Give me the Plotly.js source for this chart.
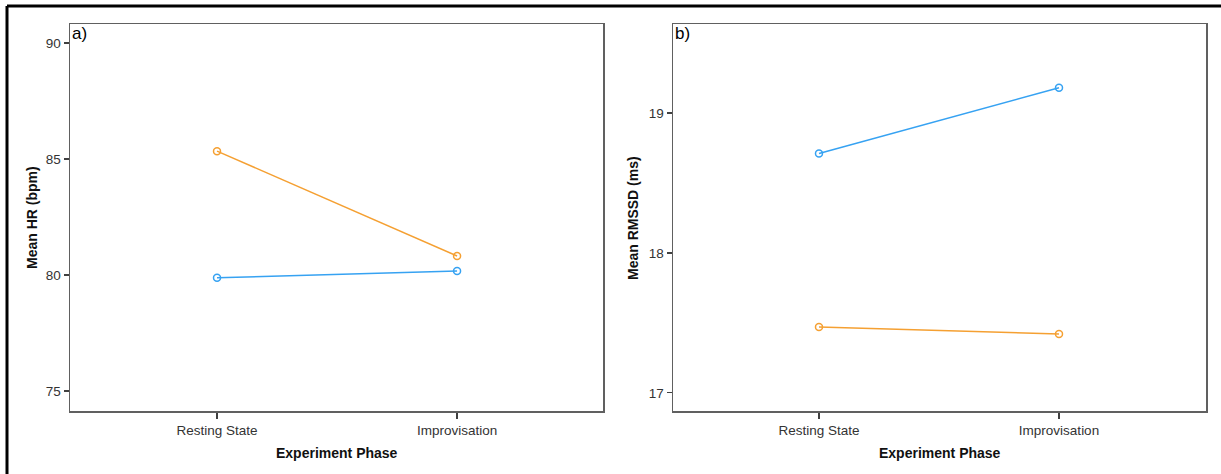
<!DOCTYPE html>
<html>
<head>
<meta charset="utf-8">
<script src="https://cdn.plot.ly/plotly-3.0.1.min.js"></script>
<style>html,body{margin:0;padding:0;background:#fff;}#chart{width:1221px;height:474px;}</style>
</head>
<body>
<div id="chart"></div>
<script>
const phases = ["Resting State", "Improvisation"];
const hrOrange = [85.34, 80.82];
const hrBlue = [79.88, 80.17];
const rmssdBlue = [18.71, 19.18];
const rmssdOrange = [17.47, 17.42];
const hrTicks = [75, 80, 85, 90];
const rmssdTicks = [17, 18, 19];

const ORANGE = "#F5A032";
const BLUE = "#36A2F2";
const FONT = "Liberation Sans, Arial, sans-serif";

function tr(y, color, xa, ya) {
  return {
    x: phases, y: y, xaxis: xa, yaxis: ya, type: "scatter", mode: "lines+markers",
    line: {color: color, width: 1.5},
    marker: {symbol: "circle-open", size: 7, color: color, line: {color: color, width: 1.5}},
    showlegend: false, hoverinfo: "skip"
  };
}

const data = [
  tr(hrOrange, ORANGE, "x", "y"),
  tr(hrBlue, BLUE, "x", "y"),
  tr(rmssdBlue, BLUE, "x2", "y2"),
  tr(rmssdOrange, ORANGE, "x2", "y2")
];

const yDom = [1 - 411/474, 1 - 24/474];
const axCommon = {
  showline: true, mirror: true, linecolor: "#606060", linewidth: 1.5,
  ticks: "outside", ticklen: 5, tickwidth: 1.3, tickcolor: "#404040",
  showgrid: false, zeroline: false, fixedrange: true,
  tickfont: {family: FONT, size: 13.5, color: "#333"}
};

const layout = {
  width: 1221, height: 474,
  margin: {l: 0, r: 0, t: 0, b: 0},
  paper_bgcolor: "#fff", plot_bgcolor: "#fff",
  font: {family: FONT},
  xaxis: Object.assign({}, axCommon, {domain: [70/1221, 603/1221], anchor: "y", type: "category", range: [-0.6125, 1.608], ticklen: 6}),
  yaxis: Object.assign({}, axCommon, {domain: yDom, anchor: "x", range: [74.14, 90.82], tickvals: hrTicks}),
  xaxis2: Object.assign({}, axCommon, {domain: [673/1221, 1206/1221], anchor: "y2", type: "category", range: [-0.6083, 1.6125], ticklen: 6}),
  yaxis2: Object.assign({}, axCommon, {domain: yDom, anchor: "x2", range: [16.87, 19.636], tickvals: rmssdTicks}),
  shapes: [
    {type: "line", xref: "paper", yref: "paper", x0: 7/1221, x1: 1, y0: 1 - 6/474, y1: 1 - 6/474, line: {color: "#000", width: 3}},
    {type: "line", xref: "paper", yref: "paper", x0: 7/1221, x1: 7/1221, y0: 0, y1: 1 - 6/474, line: {color: "#000", width: 3}}
  ],
  annotations: [
    {text: "a)", xref: "paper", yref: "paper", x: 70/1221, y: 1 - 22/474, xanchor: "left", yanchor: "top", showarrow: false, font: {family: FONT, size: 17, color: "#000"}},
    {text: "b)", xref: "paper", yref: "paper", x: 673/1221, y: 1 - 22/474, xanchor: "left", yanchor: "top", showarrow: false, font: {family: FONT, size: 17, color: "#000"}},
    {text: "<b>Experiment Phase</b>", xref: "paper", yref: "paper", x: 337/1221, y: 1 - 453/474, xanchor: "center", yanchor: "middle", showarrow: false, font: {family: FONT, size: 14, color: "#111"}},
    {text: "<b>Experiment Phase</b>", xref: "paper", yref: "paper", x: 940/1221, y: 1 - 453/474, xanchor: "center", yanchor: "middle", showarrow: false, font: {family: FONT, size: 14, color: "#111"}},
    {text: "<b>Mean HR (bpm)</b>", xref: "paper", yref: "paper", x: 32/1221, y: 1 - 218/474, xanchor: "center", yanchor: "middle", textangle: -90, showarrow: false, font: {family: FONT, size: 14, color: "#111"}},
    {text: "<b>Mean RMSSD (ms)</b>", xref: "paper", yref: "paper", x: 633/1221, y: 1 - 218/474, xanchor: "center", yanchor: "middle", textangle: -90, showarrow: false, font: {family: FONT, size: 14, color: "#111"}}
  ]
};

Plotly.newPlot("chart", data, layout, {displayModeBar: false, staticPlot: true});
</script>
</body>
</html>
